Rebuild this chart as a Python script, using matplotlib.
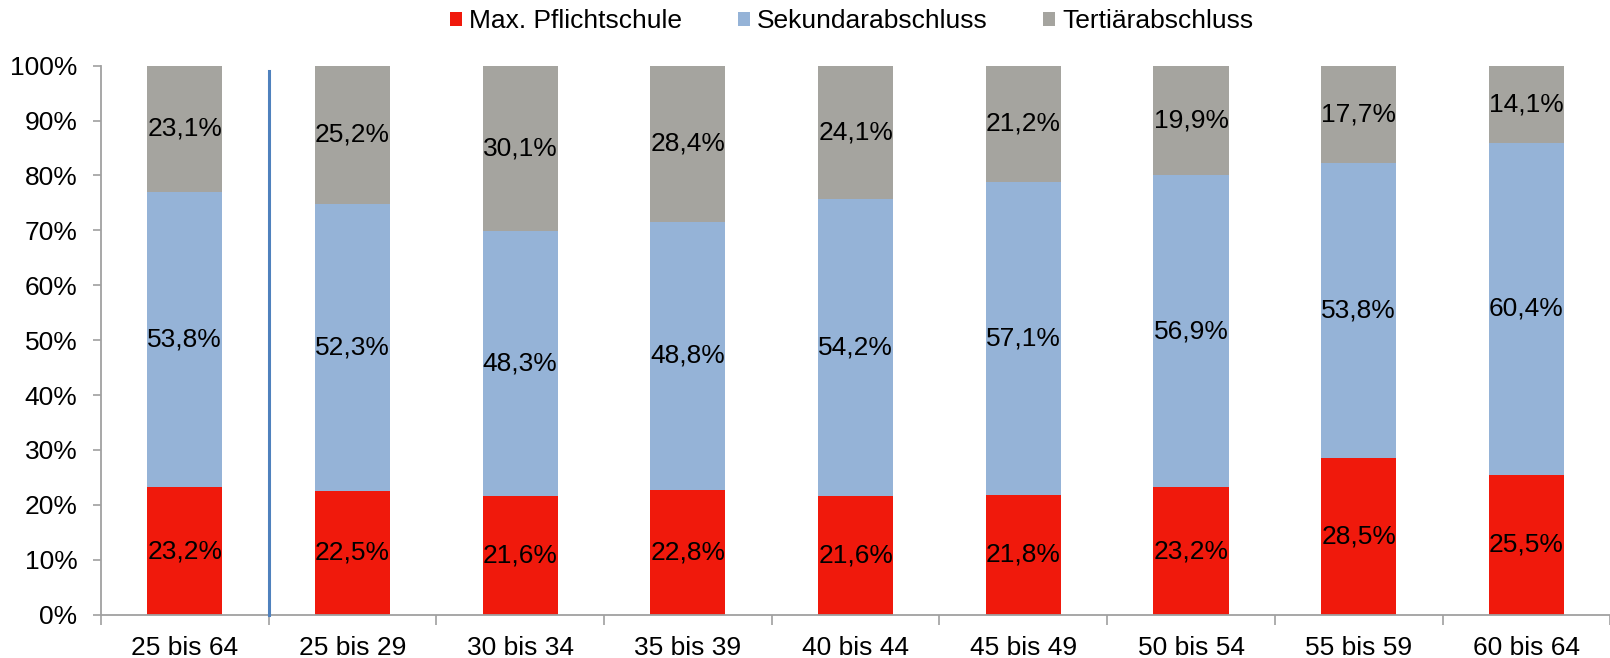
import numpy as np
import matplotlib
matplotlib.use("Agg")
import matplotlib.pyplot as plt
from matplotlib.patches import Patch

plt.rcParams['font.family'] = ['Liberation Sans', 'DejaVu Sans']

# Bildungsstand nach Altersgruppen
altersgruppen = ["25 bis 64", "25 bis 29", "30 bis 34", "35 bis 39", "40 bis 44",
                 "45 bis 49", "50 bis 54", "55 bis 59", "60 bis 64"]
pflichtschule = [23.2, 22.5, 21.6, 22.8, 21.6, 21.8, 23.2, 28.5, 25.5]
sekundar = [53.8, 52.3, 48.3, 48.8, 54.2, 57.1, 56.9, 53.8, 60.4]
tertiaer = [23.1, 25.2, 30.1, 28.4, 24.1, 21.2, 19.9, 17.7, 14.1]
serien = ["Max. Pflichtschule", "Sekundarabschluss", "Tertiärabschluss"]
farben = ["#f0190c", "#95b3d7", "#a5a49f"]

fig = plt.figure(figsize=(16.1, 6.58), dpi=100)
ax = fig.add_axes([0.0627, 0.0658, 0.9375, 0.8344])

x = np.arange(len(altersgruppen))
breite = 0.448
unten = np.zeros(len(x))
for werte, farbe in zip([pflichtschule, sekundar, tertiaer], farben):
    werte = np.array(werte)
    ax.bar(x, werte, breite, bottom=unten, color=farbe, edgecolor="none", zorder=2)
    oben = np.minimum(unten + werte, 100)
    for xi, u, o, w in zip(x, unten, oben, werte):
        ax.text(xi, (u + o) / 2, f"{w:.1f}%".replace(".", ","), ha="center", va="center",
                fontsize=19, color="black", zorder=3)
    unten = unten + werte

# Trennlinie zwischen Gesamtwert und Altersgruppen
ax.plot([0.5, 0.5], [0, 99], color="#4f81bd", linewidth=2.2, zorder=4, clip_on=False)

ax.set_xlim(-0.5, 8.5)
ax.set_ylim(0, 100)
ax.set_yticks(np.arange(0, 101, 10))
ax.set_yticklabels([f"{v}%" for v in range(0, 101, 10)])
ax.set_xticks(x)
ax.set_xticklabels(altersgruppen)
ax.set_xticks(np.arange(-0.5, 9, 1), minor=True)
ax.tick_params(axis="x", which="major", length=0, pad=15, labelsize=19)
ax.tick_params(axis="x", which="minor", length=7, width=1.2, color="#a0a0a0")
ax.tick_params(axis="y", length=6, width=1.2, color="#a0a0a0", pad=11, labelsize=19)

for s in ["top", "right"]:
    ax.spines[s].set_visible(False)
for s in ["left", "bottom"]:
    ax.spines[s].set_color("#a0a0a0")
    ax.spines[s].set_linewidth(1.3)

handles = [Patch(facecolor=f, edgecolor="none") for f in farben]
fig.legend(handles, serien, loc="center", bbox_to_anchor=(0.529, 0.968), ncol=3,
           frameon=False, fontsize=19, handlelength=0.45, handleheight=0.45,
           handletextpad=0.27, columnspacing=2.1)

plt.savefig("out.png", dpi=100)
